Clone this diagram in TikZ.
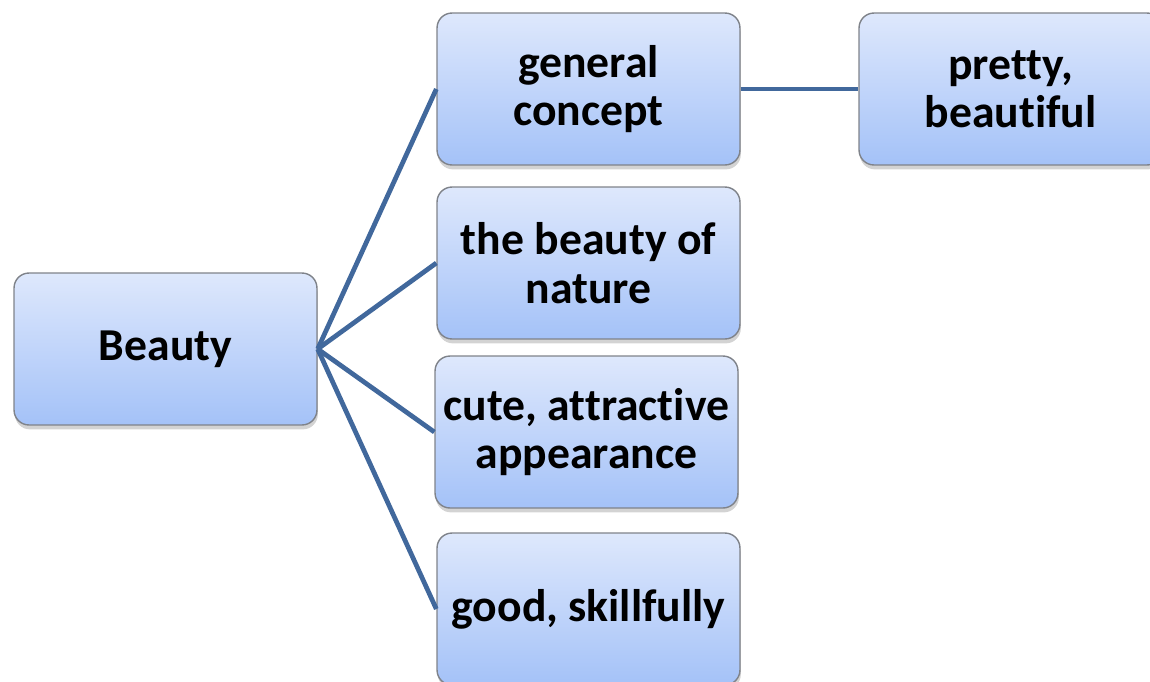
\documentclass[tikz,border=0pt]{standalone}
\usepackage{fontspec}
\setmainfont{Carlito}[Ligatures = NoCommon]
\usetikzlibrary{shadows}
\definecolor{boxtop}{HTML}{DEE8FC}
\definecolor{boxbot}{HTML}{A4C2F8}
\definecolor{boxline}{HTML}{7F838A}
\definecolor{link}{HTML}{41689C}
\begin{document}
\begin{tikzpicture} [x = 0.02cm, y = -0.02cm,
	box/.style = {draw = boxline, line width = 0.8pt, rounded corners = 0.3cm,
		top color = boxtop, bottom color = boxbot,
		minimum width = 6.06cm, minimum height = 3.04cm, align = center,
		font = \fontsize{26}{27.5}\selectfont\bfseries,
		drop shadow = {shadow xshift = 0.5pt, shadow yshift = -2.5pt, opacity = 0.35}},
	link/.style = {draw = link, line width = 2.7pt}]
	\useasboundingbox (0,0) rectangle (1150,681);
	\node [box] (beauty) at (165.5,349) {Beauty};
	\node [box] (general) at (588.5,89) {general\\concept};
	\node [box] (pretty) at (1010.5,89) {pretty,\\beautiful};
	\node [box] (nature) at (588.5,263) {the beauty of\\nature};
	\node [box] (cute) at (586.5,432) {cute, attractive\\appearance};
	\node [box] (good) at (588.5,609) {good, skillfully};
	\draw [link] (beauty.east) -- (general.west);
	\draw [link] (beauty.east) -- (nature.west);
	\draw [link] (beauty.east) -- (cute.west);
	\draw [link] (beauty.east) -- (good.west);
	\draw [link] (general.east) -- (pretty.west);
\end{tikzpicture}
\end{document}
